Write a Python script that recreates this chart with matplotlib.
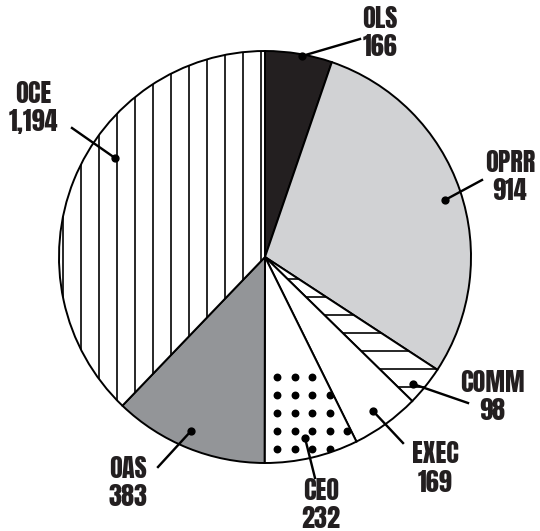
import matplotlib.pyplot as plt
import numpy as np

# Staff counts by office
offices = ["OLS", "OPRR", "COMM", "EXEC", "CEO", "OAS", "OCE"]
counts = [166, 914, 98, 169, 232, 383, 1194]
value_labels = ["166", "914", "98", "169", "232", "383", "1,194"]

# wedge styling
colors = ["#231f20", "#d1d2d4", "white", "white", "white", "#939598", "white"]
hatches = [None, None, "-", None, None, None, "|"]

# label layout (pixel coords, y measured from top; y is the name's baseline)
label_xy = [(380, 28), (510, 172), (492, 392), (435, 463), (321, 500), (128, 478), (33, 103)]
leader_start = [(360, 39), (482, 180), (468, 403), (403, 443), (315, 478), (158, 467), (72, 128)]
dot_xy = [(302, 56), (445, 200), (413, 384), (373, 411), (305, 438), (191, 431), (115, 158)]
LINE_GAP = 28.5

W, H = 540, 531
DPI = 108
cx, cy, R = 265, H - 257, 206
FONT = ["Anton", "Liberation Sans Narrow", "DejaVu Sans"]
INK = "#231f20"

fig = plt.figure(figsize=(W / DPI, H / DPI), dpi=DPI)
ax = fig.add_axes([0, 0, 1, 1])

plt.rcParams["hatch.linewidth"] = 1.1

wedges, _ = ax.pie(
    counts,
    colors=colors,
    startangle=90,
    counterclock=False,
    radius=R,
    center=(cx, cy),
    frame=True,
    wedgeprops=dict(edgecolor="black", linewidth=1.3),
)
for w, h in zip(wedges, hatches):
    if h:
        w.set_hatch(h)
ax.set_xlim(0, W)
ax.set_ylim(0, H)
ax.set_aspect("equal")
ax.axis("off")

# dotted fill for CEO wedge
ceo = wedges[offices.index("CEO")]
gx, gy = np.meshgrid(np.arange(cx + 12, cx + 120, 17.6), np.arange(H - 377, H - 480, -17.9))
ax.scatter(gx.ravel(), gy.ravel(), s=18, color="black", clip_path=ceo, zorder=3)

for name, val, (lx, ly), (sx, sy), (dx, dy) in zip(
    offices, value_labels, label_xy, leader_start, dot_xy
):
    ax.plot([sx, dx], [H - sy, H - dy], color="black", lw=1.6, zorder=4)
    ax.plot(dx, H - dy, "o", color="black", ms=4.5, zorder=4)
    for i, t in enumerate((name, val)):
        ax.text(lx, H - ly - i * LINE_GAP, t, ha="center", va="baseline",
                fontsize=17.5, family=FONT, color=INK)

fig.savefig("out.png", dpi=DPI)
